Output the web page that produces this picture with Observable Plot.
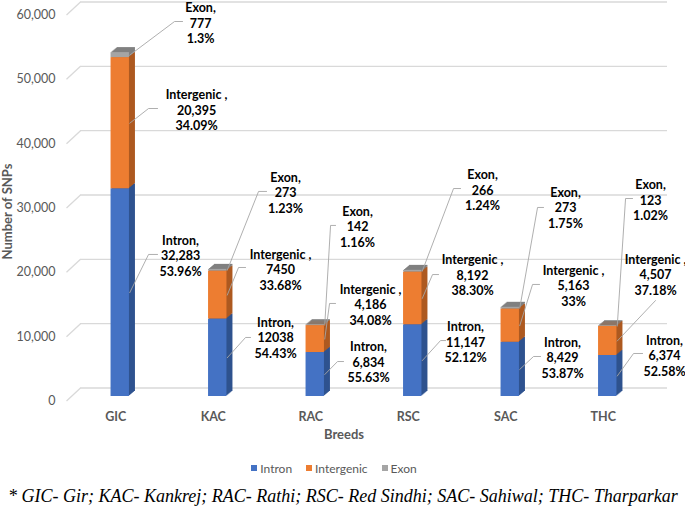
<!DOCTYPE html>
<html>
<head>
<meta charset="utf-8">
<script src="https://cdn.jsdelivr.net/npm/d3@7"></script>
<script src="https://cdn.jsdelivr.net/npm/@observablehq/plot@0.6"></script>
<style>
  html, body { margin: 0; padding: 0; background: #fff; }
  #wrap { position: relative; width: 685px; height: 510px; overflow: hidden; background: #fff; }
  #chart svg { display: block; }
  #legend { position: absolute; left: 0; width: 668px; top: 460px; height: 16px; display: flex; justify-content: center; align-items: center;
            font-family: Lato, "Open Sans", sans-serif; font-size: 12px; color: #595959; }
  #legend .item { display: flex; align-items: center; margin: 0 7px; }
  #legend .sw { width: 6px; height: 6px; margin-right: 3px; }
  #foot { position: absolute; left: 8px; top: 486px; white-space: nowrap; font-family: "Liberation Serif", "DejaVu Serif", serif;
          font-style: italic; font-size: 18px; color: #000; }
</style>
</head>
<body>
<div id="wrap">
  <div id="chart"></div>
  <div id="legend"></div>
  <div id="foot">* GIC- Gir; KAC- Kankrej; RAC- Rathi; RSC- Red Sindhi; SAC- Sahiwal; THC- Tharparkar</div>
</div>
<script>
// ---------------- data ----------------
const breeds = ["GIC", "KAC", "RAC", "RSC", "SAC", "THC"];
const intron = [32283, 12038, 6834, 11147, 8429, 6374];
const intergenic = [20395, 7450, 4186, 8192, 5163, 4507];
const exon = [777, 273, 142, 266, 273, 123];
const intronLabels = ["32,283", "12038", "6,834", "11,147", "8,429", "6,374"];
const intergenicLabels = ["20,395", "7450", "4,186", "8,192", "5,163", "4,507"];
const exonLabels = ["777", "273", "142", "266", "273", "123"];
const intronPct = ["53.96%", "54.43%", "55.63%", "52.12%", "53.87%", "52.58%"];
const intergenicPct = ["34.09%", "33.68%", "34.08%", "38.30%", "33%", "37.18%"];
const exonPct = ["1.3%", "1.23%", "1.16%", "1.24%", "1.75%", "1.02%"];
const yTicks = [0, 10000, 20000, 30000, 40000, 50000, 60000];

// ---------------- layout (pixel offsets of data labels from their segment) ----------------
// [textDx, textDy, elbowDx, elbowDy, stubEndDx]
const intronLayout = [[60.3,-37.2,28.3,-38.2,37.3],[57.8,-20.3,27.8,-20.3,32.8],[53.3,-13,22.3,-13,28.3],[52.8,-19.1,27.8,-20.1,32.8],[52.3,-11.9,23.3,-12.9,30.3],[56.8,-20.5,25.8,-22.5,34.8]];
const intergenicLayout = [[76.3,-13.7,28.3,-14.7,37.3],[62.8,-25.6,20.8,-27.6,27.8],[55.3,-34.6,14.3,-35.6,20.3],[59.8,-23.9,19.8,-23.9,25.8],[63.3,-40.2,22.3,-41.2,29.3],[47.8,-66.5,47.8,-40.5,47.8]];
const exonLayout = [[80.3,-32.6,54.3,-33.6,62.3],[67.8,-77.8,40.8,-78.8,48.8],[42.3,-98.7,15.3,-99.7,20.3],[69.8,-81.7,40.8,-82.7,47.8],[55.3,-100.7,27.3,-100.7,33.3],[42.8,-126.6,17.8,-127.6,24.8]];

const W = 685, H = 450, ML = 71, MR = 29, MT = 10, MB = 54;
const xDomain = [-0.5, 5.5], yDomain = [0, 60000];
const pxX = (W - ML - MR) / (xDomain[1] - xDomain[0]);
const pxY = (H - MT - MB) / (yDomain[1] - yDomain[0]);
const ux = p => p / pxX;      // pixels -> x data units
const uy = p => -p / pxY;     // pixels (down) -> y data units
const hw = ux(9.2);           // half bar width
const depthX = 6, depthY = 5; // 3-D extrusion in pixels

const series = [
  {name: "Intron", head: "Intron,", values: intron, labels: intronLabels, pct: intronPct, layout: intronLayout, fill: "#4472C4", side: "#2F528F"},
  {name: "Intergenic", head: "Intergenic ,", values: intergenic, labels: intergenicLabels, pct: intergenicPct, layout: intergenicLayout, fill: "#ED7D31", side: "#AE5A21"},
  {name: "Exon", head: "Exon,", values: exon, labels: exonLabels, pct: exonPct, layout: exonLayout, fill: "#A5A5A5", side: "#808080"}
];

const rows = [];
breeds.forEach((b, i) => {
  let cum = 0;
  series.forEach(s => {
    const v = s.values[i];
    const r = {i, breed: b, s, y1: cum, y2: cum + v, mid: cum + v / 2,
               text: `${s.head}\n${s.labels[i]}\n${s.pct[i]}`, off: s.layout[i]};
    cum += v;
    rows.push(r);
  });
});

const leaders = [];
rows.forEach((r, k) => {
  const [tx, ty, ex, ey, sx] = r.off;
  leaders.push({k, x: r.i + ux(9.5), y: r.mid});
  leaders.push({k, x: r.i + ux(ex), y: r.mid + uy(ey)});
  leaders.push({k, x: r.i + ux(sx), y: r.mid + uy(ey)});
});

// ---------------- marks ----------------
const marks = [];
marks.push(Plot.ruleY(yTicks, {x1: xDomain[0], x2: xDomain[1] + ux(2), dx: 9, dy: -8.5, stroke: "#D9D9D9", strokeWidth: 1.3}));
marks.push(Plot.link(yTicks, {x1: xDomain[0] + ux(-5), x2: xDomain[0] + ux(9), y1: d => d + uy(4.5), y2: d => d + uy(-8.5), stroke: "#D9D9D9", strokeWidth: 1.3}));

series.forEach(s => {
  const data = rows.filter(r => r.s === s);
  for (let k = depthX; k >= 1; k--) {
    marks.push(Plot.rect(data, {x1: r => r.i - hw, x2: r => r.i + hw, y1: "y1", y2: "y2", dx: k, dy: -k * depthY / depthX, fill: s.side}));
  }
});
series.forEach(s => {
  marks.push(Plot.rect(rows.filter(r => r.s === s), {x1: r => r.i - hw, x2: r => r.i + hw, y1: "y1", y2: "y2", fill: s.fill}));
});

marks.push(Plot.line(leaders, {x: "x", y: "y", z: "k", stroke: "#A6A6A6", strokeWidth: 0.9}));
marks.push(Plot.text(rows, {x: r => r.i + ux(r.off[0]), y: r => r.mid + uy(r.off[1]), text: "text", lineHeight: 1.25,
  fontWeight: "bold", fill: "#000", fontSize: 12.5}));

marks.push(Plot.axisY(yTicks, {tickFormat: d3.format(","), tickSize: 0, tickPadding: 16, dy: 4.5, fill: "#595959", fontSize: 12.5, label: null}));
marks.push(Plot.axisX(d3.range(breeds.length), {tickFormat: i => breeds[i], tickSize: 0, tickPadding: 16, dx: -4.5, fill: "#595959", fontWeight: "bold", fontSize: 12.5, label: null}));
marks.push(Plot.text(["Number of SNPs"], {frameAnchor: "left", textAnchor: "middle", dx: -64, dy: 8, rotate: -90, fontWeight: "bold", fill: "#595959", fontSize: 13}));
marks.push(Plot.text(["Breeds"], {frameAnchor: "bottom", dx: -20, dy: 42, fontWeight: "bold", fill: "#595959", fontSize: 13}));

const chart = Plot.plot({
  width: W, height: H,
  marginLeft: ML, marginRight: MR, marginTop: MT, marginBottom: MB,
  x: {type: "linear", domain: xDomain, label: null},
  y: {type: "linear", domain: yDomain, label: null},
  style: {fontFamily: "Lato, 'Open Sans', sans-serif", fontSize: "12.5px", background: "#fff", overflow: "visible"},
  marks
});
document.getElementById("chart").appendChild(chart);

// legend
const legend = document.getElementById("legend");
series.forEach(s => {
  const it = document.createElement("div");
  it.className = "item";
  it.innerHTML = `<span class="sw" style="background:${s.fill}"></span><span>${s.name}</span>`;
  legend.appendChild(it);
});
</script>
</body>
</html>
